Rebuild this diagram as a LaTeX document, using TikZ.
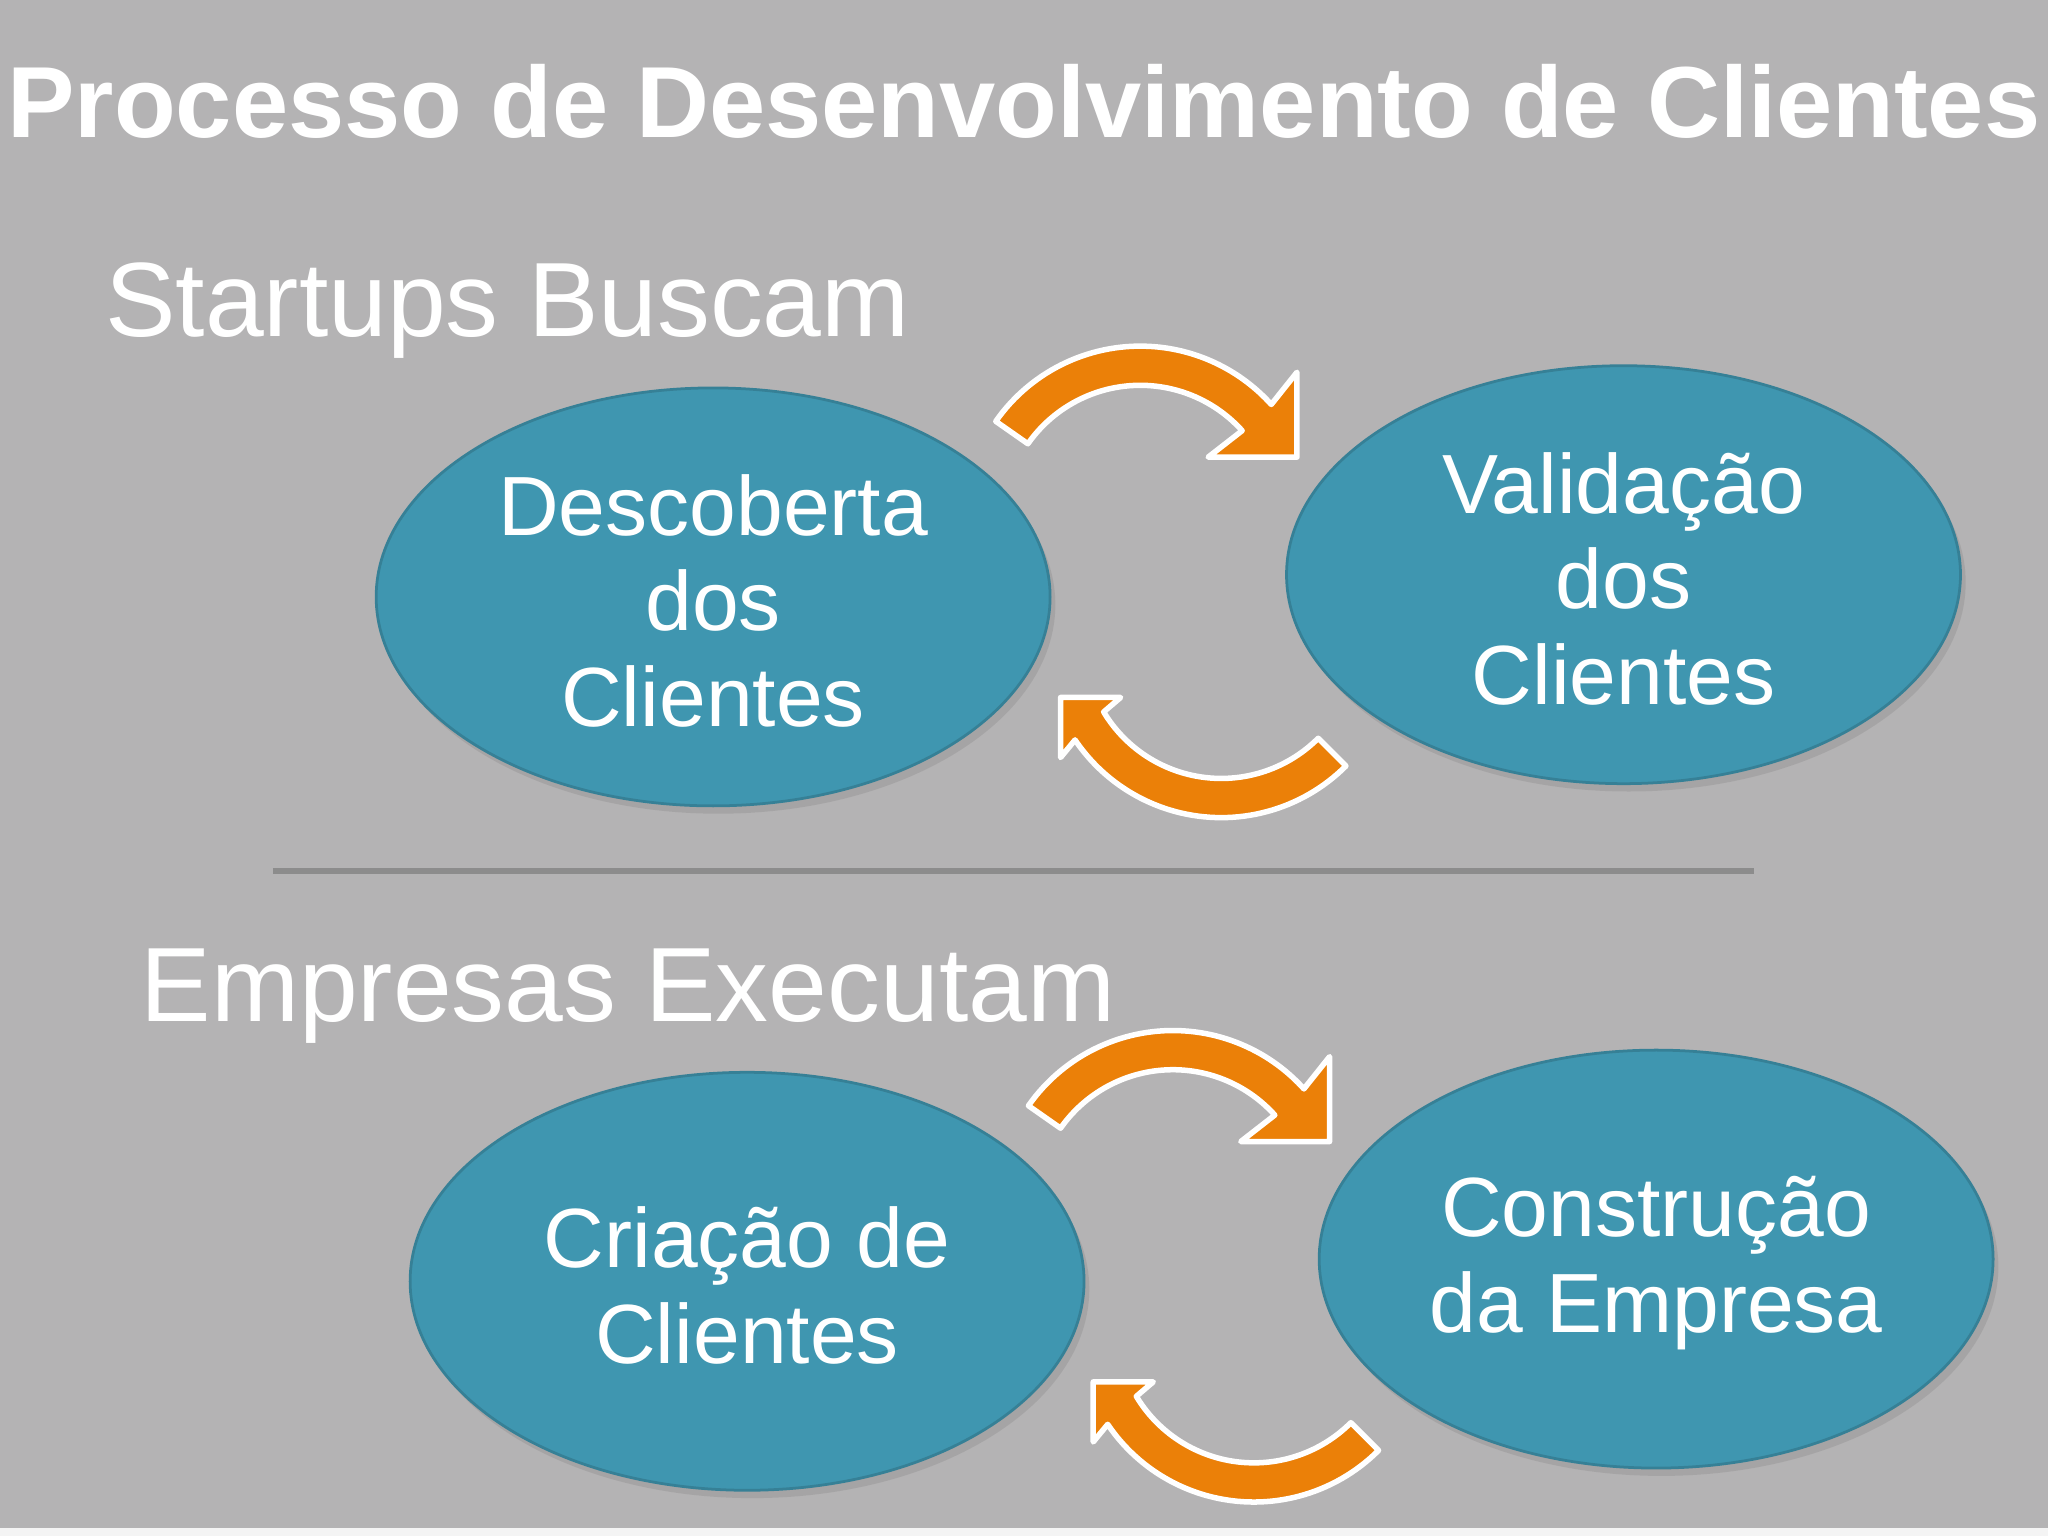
\documentclass[tikz,border=0pt]{standalone}
\usepackage{fontspec}
\setmainfont{Liberation Sans}
\begin{document}
\begin{tikzpicture}[x=0.01cm,y=-0.01cm,
  ell/.style={fill=teal0,draw=teal0!85!black,line width=0.6pt},
  etext/.style={text=white,align=center,font=\fontsize{18.3}{20.8}\selectfont},
  arr/.style={fill=orange0,draw=white,line width=1.2pt,line join=round}]
\definecolor{teal0}{HTML}{3F96B0}
\definecolor{orange0}{HTML}{EB8008}
\definecolor{bg0}{HTML}{B4B3B4}
\useasboundingbox (0,0) rectangle (1568,1176);
\fill[bg0] (0,0) rectangle (1568,1176);
\fill[white!85!bg0] (0,1170) rectangle (1568,1176);
\node[anchor=base,text=white,font=\fontsize{22}{26}\selectfont\bfseries] (title) at (784,105) {Processo de Desenvolvimento de Clientes};
\node[anchor=base west,inner sep=0,text=white,font=\fontsize{23}{26}\selectfont] (st) at (80,258) {Startups Buscam};
\node[anchor=base west,inner sep=0,text=white,font=\fontsize{23}{26}\selectfont] (em) at (107,782) {Empresas Executam};
\draw[line width=1.4pt,draw=black!45] (209,667) -- (1343,667);
% ellipses
\foreach \cx/\cy in {546/457,1243/440,572/981,1268/964}
  \fill[black,opacity=0.08] (\cx+4,\cy+6) ellipse [x radius=258,y radius=160];
\draw[ell] (546,457) ellipse [x radius=258,y radius=160];
\draw[ell] (1243,440) ellipse [x radius=258,y radius=160];
\draw[ell] (572,981) ellipse [x radius=258,y radius=160];
\draw[ell] (1268,964) ellipse [x radius=258,y radius=160];
\node[etext] (a) at (546,460) {Descoberta\\dos\\Clientes};
\node[etext] (b) at (1243,443) {Validação\\dos\\Clientes};
\node[etext] (c) at (572,984) {Criação de\\Clientes};
\node[etext] (d) at (1268,967) {Construção\\da Empresa};
% arrows
\foreach \dx/\dy in {0/0,25/524}{
\begin{scope}[shift={(\dx,\dy)}]
\draw[arr] ([shift={(215:135)}]873,400) arc[start angle=215,end angle=318,radius=135]
  -- (993,285) -- (993,350) -- (925,350)
  -- ([shift={(318:105)}]873,400) arc[start angle=318,end angle=215,radius=105] -- cycle;
\draw[arr] ([shift={(45:135)}]935,491) arc[start angle=45,end angle=146,radius=135]
  -- (812,580) -- (812,534) -- (858,534)
  -- ([shift={(149:105)}]935,491) arc[start angle=149,end angle=45,radius=105] -- cycle;
\end{scope}}
\end{tikzpicture}
\end{document}
